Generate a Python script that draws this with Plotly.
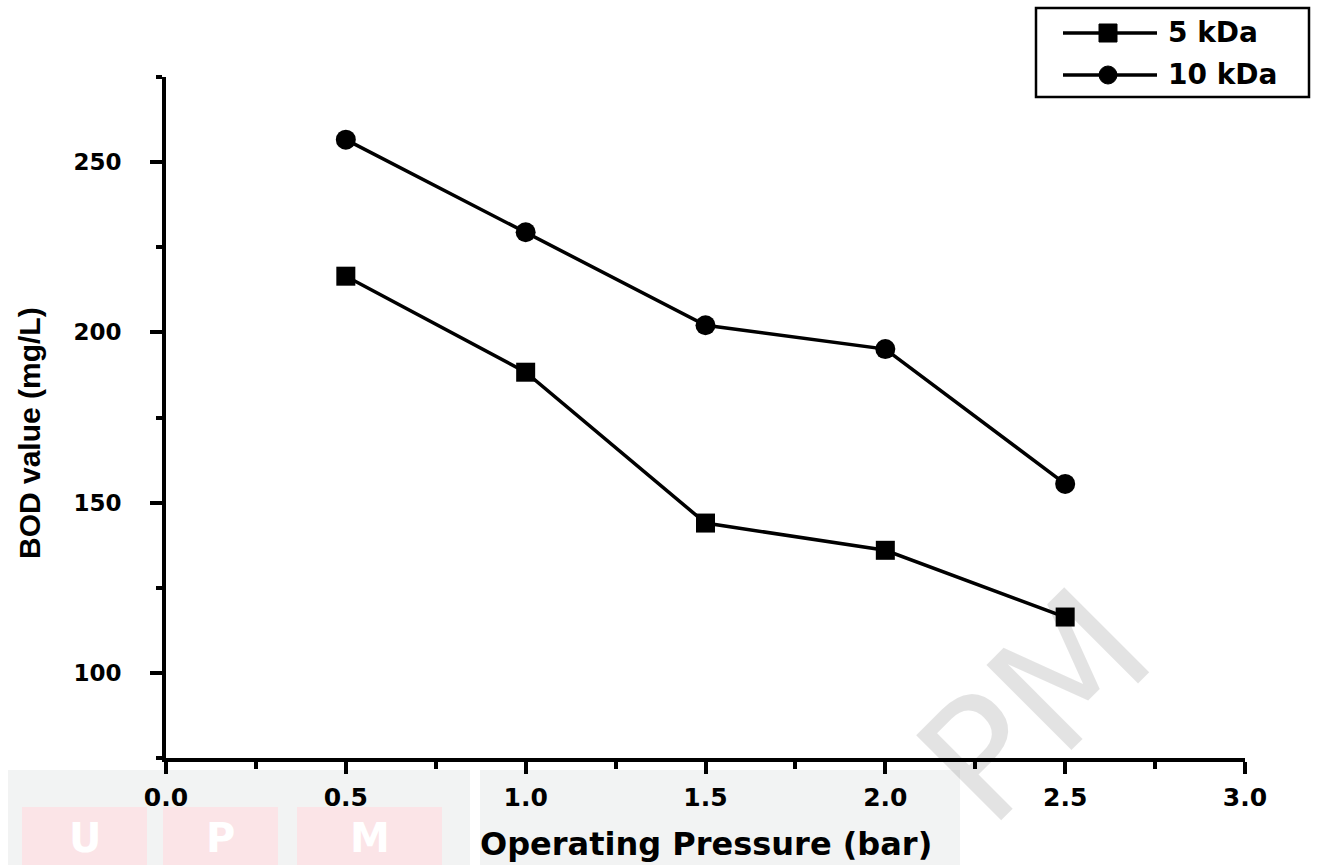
import plotly.graph_objects as go

# Operating pressure (bar) and BOD of the permeate (mg/L)
pressure = [0.5, 1.0, 1.5, 2.0, 2.5]
bod_5kda = [216.5, 188.3, 144.0, 136.0, 116.4]
bod_10kda = [256.6, 229.4, 202.1, 195.1, 155.5]
series_names = ["5 kDa", "10 kDa"]

x_ticks = [0.0, 0.5, 1.0, 1.5, 2.0, 2.5, 3.0]
x_tick_labels = ["0.0", "0.5", "1.0", "1.5", "2.0", "2.5", "3.0"]
y_ticks = [100, 150, 200, 250]

WIDE = "DejaVu Sans, Verdana, sans-serif"
ARIAL = "Liberation Sans, Arial, Helvetica, sans-serif"

# plot area in pixels, used to place page furniture in paper units
L, R, T, B = 166, 1245, 77, 758


def px(x):
    return (x - L) / (R - L)


def py(y):
    return (B - y) / (B - T)


fig = go.Figure()
fig.add_trace(go.Scatter(
    x=pressure, y=bod_5kda, mode="lines+markers", name=series_names[0],
    line=dict(color="black", width=3.5),
    marker=dict(symbol="square", size=19, color="black"),
))
fig.add_trace(go.Scatter(
    x=pressure, y=bod_10kda, mode="lines+markers", name=series_names[1],
    line=dict(color="black", width=3.5),
    marker=dict(symbol="circle", size=20, color="black"),
))

axis_common = dict(
    showline=True, linecolor="black", linewidth=4, mirror=False,
    showgrid=False, zeroline=False, ticks="outside", tickwidth=3.5,
    ticklen=12, tickcolor="black",
)

fig.update_xaxes(
    range=[0, 3], tickvals=x_ticks, ticktext=[f"<b>{t}</b>" for t in x_tick_labels],
    tickfont=dict(family=WIDE, size=25, color="black"), ticklabelstandoff=2,
    minor=dict(dtick=0.25, ticks="outside", ticklen=7, tickwidth=3.5, tickcolor="black"),
    **axis_common,
)
fig.update_yaxes(
    range=[75, 275], tickvals=y_ticks, ticktext=[f"<b>{v}</b>" for v in y_ticks],
    tickfont=dict(family=WIDE, size=23, color="black"), ticklabelstandoff=24,
    minor=dict(tick0=75, dtick=25, ticks="outside", ticklen=6, tickwidth=3.5, tickcolor="black"),
    **axis_common,
)

shapes = []
annotations = []

# pale logo band along the bottom edge
for left, right in [(8, 470), (480, 960)]:
    shapes.append(dict(type="rect", xref="paper", yref="paper", layer="below",
                       x0=px(left), x1=px(right), y0=py(870), y1=py(770),
                       fillcolor="#f2f3f3", line=dict(width=0)))
for left, right, letter in [(22, 147, "U"), (163, 278, "P"), (297, 442, "M")]:
    shapes.append(dict(type="rect", xref="paper", yref="paper", layer="below",
                       x0=px(left), x1=px(right), y0=py(870), y1=py(807),
                       fillcolor="#fbe4e7", line=dict(width=0)))
    annotations.append(dict(
        xref="paper", yref="paper", x=px((left + right) / 2), y=py(838),
        xanchor="center", yanchor="middle", showarrow=False, text=f"<b>{letter}</b>",
        font=dict(family=WIDE, size=40, color="white"),
    ))

# diagonal watermark
annotations.append(dict(
    xref="paper", yref="paper", x=px(1035), y=py(706),
    xanchor="center", yanchor="middle", showarrow=False, text="PM",
    textangle=-45, font=dict(family="DejaVu Sans, sans-serif", size=165,
                             color="rgba(0,0,0,0.11)"),
))

# axis titles
annotations.append(dict(
    xref="paper", yref="paper", x=px((L + R) / 2), y=py(844),
    xanchor="center", yanchor="middle", showarrow=False,
    text="<b>Operating Pressure (bar)</b>",
    font=dict(family=WIDE, size=32, color="black"),
))
annotations.append(dict(
    xref="paper", yref="paper", x=px(29), y=py(433),
    xanchor="center", yanchor="middle", showarrow=False, textangle=-90,
    text="<b>BOD value (mg/L)</b>",
    font=dict(family=ARIAL, size=30, color="black"),
))

# legend box in the top-right corner
shapes.append(dict(type="rect", xref="paper", yref="paper",
                   x0=px(1036), x1=px(1309), y0=py(97), y1=py(8),
                   fillcolor="white", line=dict(color="black", width=2.5)))
for row_y, name, symbol in [(33, series_names[0], "square"), (75, series_names[1], "circle")]:
    shapes.append(dict(type="line", xref="paper", yref="paper",
                       x0=px(1063), x1=px(1157), y0=py(row_y), y1=py(row_y),
                       line=dict(color="black", width=3.5)))
    half = 9
    shapes.append(dict(type="rect" if symbol == "square" else "circle",
                       xref="paper", yref="paper",
                       x0=px(1108 - half), x1=px(1108 + half),
                       y0=py(row_y + half), y1=py(row_y - half),
                       fillcolor="black", line=dict(color="black", width=1)))
    annotations.append(dict(
        xref="paper", yref="paper", x=px(1166), y=py(row_y),
        xanchor="left", yanchor="middle", showarrow=False, text=f"<b>{name}</b>",
        font=dict(family=WIDE, size=28, color="black"),
    ))

fig.update_layout(
    width=1321, height=865,
    margin=dict(l=L, r=1321 - R, t=T, b=865 - B),
    paper_bgcolor="white", plot_bgcolor="white",
    showlegend=False,
    shapes=shapes,
    annotations=annotations,
)

fig.write_html("out.html")
